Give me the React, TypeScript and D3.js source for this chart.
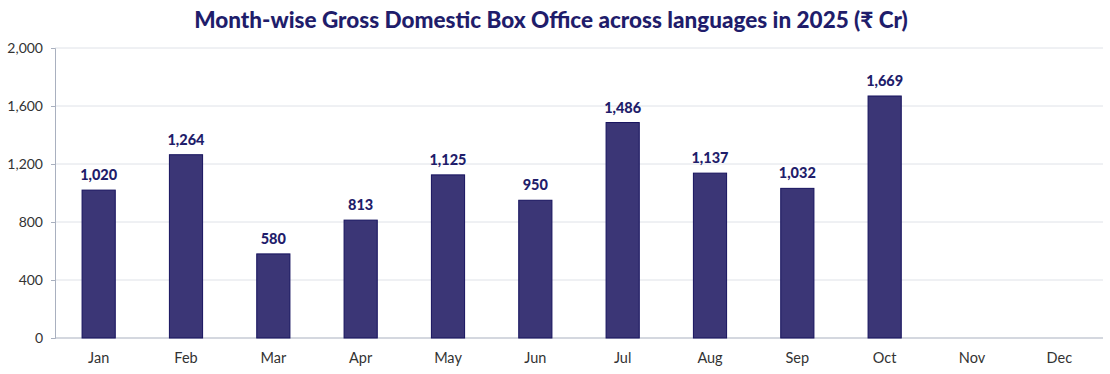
import React, { useEffect, useRef } from 'react'
import * as d3 from 'd3'

const months = ['Jan', 'Feb', 'Mar', 'Apr', 'May', 'Jun', 'Jul', 'Aug', 'Sep', 'Oct', 'Nov', 'Dec']
const grossCr: (number | null)[] = [1020, 1264, 580, 813, 1125, 950, 1486, 1137, 1032, 1669, null, null]
const yTicks = [0, 400, 800, 1200, 1600, 2000]

export default function App() {
  const ref = useRef<SVGSVGElement | null>(null)

  useEffect(() => {
    const width = 1110
    const height = 374
    const margin = { top: 48, right: 7, bottom: 36, left: 55 }
    const svg = d3.select(ref.current!)
    svg.selectAll('*').remove()
    const font = 'Lato, "Noto Sans", sans-serif'

    const x = d3.scaleBand<string>().domain(months).range([margin.left, width - margin.right]).paddingInner(0.62).paddingOuter(0.31)
    const y = d3.scaleLinear().domain([0, 2000]).range([height - margin.bottom, margin.top])

    svg.append('text').attr('x', 551).attr('y', 28).attr('text-anchor', 'middle')
      .attr('font-family', font).attr('font-weight', 900).attr('font-size', 22.5).attr('fill', '#1f1d6b')
      .text('Month-wise Gross Domestic Box Office across languages in 2025 (₹ Cr)')

    const grid = svg.append('g')
    grid.selectAll('line').data(yTicks.filter(t => t > 0)).enter().append('line')
      .attr('x1', margin.left).attr('x2', width - margin.right)
      .attr('y1', d => y(d)).attr('y2', d => y(d))
      .attr('stroke', '#dfe2e8').attr('stroke-width', 1)

    const yAxis = svg.append('g').attr('transform', `translate(${margin.left},0)`)
      .call(d3.axisLeft(y).tickValues(yTicks).tickSize(4).tickPadding(8).tickFormat(d => d3.format(',')(d as number)))
    yAxis.select('.domain').attr('stroke', '#a9b0bf')
    yAxis.selectAll('.tick line').attr('stroke', '#a9b0bf')
    yAxis.selectAll('text').attr('font-family', font).attr('font-size', 14).attr('fill', '#333')

    const xAxis = svg.append('g').attr('transform', `translate(0,${y(0)})`)
      .call(d3.axisBottom(x).tickSize(0).tickPadding(15))
    xAxis.select('.domain').attr('stroke', '#a9b0bf').attr('d', `M${margin.left},0H${width - margin.right}`)
    xAxis.selectAll('text').attr('font-family', font).attr('font-size', 14.5).attr('fill', '#333')

    const data = months.map((m, i) => ({ m, v: grossCr[i] })).filter(d => d.v != null) as { m: string; v: number }[]

    svg.append('g').selectAll('rect').data(data).enter().append('rect')
      .attr('x', d => x(d.m)!)
      .attr('y', d => y(d.v))
      .attr('width', x.bandwidth())
      .attr('height', d => y(0) - y(d.v))
      .attr('fill', '#3b3676')
      .attr('stroke', '#16125e').attr('stroke-width', 1)

    svg.append('g').selectAll('text').data(data).enter().append('text')
      .attr('x', d => x(d.m)! + x.bandwidth() / 2)
      .attr('y', d => y(d.v) - 10)
      .attr('text-anchor', 'middle')
      .attr('font-family', font).attr('font-weight', 900).attr('font-size', 14.5).attr('fill', '#1f1d6b')
      .text(d => d3.format(',')(d.v))
  }, [])

  return <svg ref={ref} width={1110} height={374} style={{ display: 'block', position: 'absolute', left: 0, top: 0 }} />
}
